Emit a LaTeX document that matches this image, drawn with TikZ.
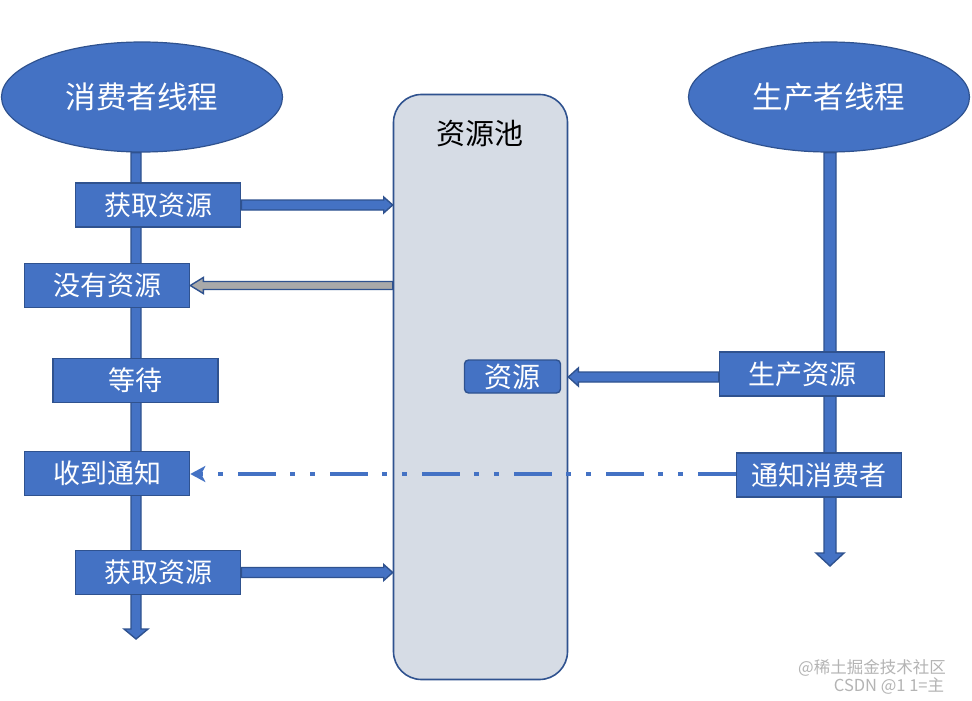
\documentclass[tikz,border=0pt]{standalone}
\usepackage{fontspec}
\setmainfont{Noto Sans CJK SC}
\usetikzlibrary{calc,shapes.geometric,arrows.meta,backgrounds}
\definecolor{fillb}{HTML}{4472C4}
\definecolor{edgeb}{HTML}{2F528F}
\definecolor{poolc}{HTML}{D6DCE5}
\definecolor{grayc}{HTML}{A9A9A9}
\definecolor{markc}{HTML}{B4B4B4}
% horizontal block arrow: [fill]{start}{end}{shaft half}{head half}{head length}
\newcommand\hblock[6][fillb]{%
  \filldraw[draw=edgeb, fill=#1, line width=1.4pt, line join=miter]
    let \p1=#2, \p2=#3, \n1={((\x2>\x1)*2-1)} in
    (\x1,\y1-#4) -- (\x2-\n1*#6,\y1-#4) -- (\x2-\n1*#6,\y1-#5) -- (\x2,\y1)
    -- (\x2-\n1*#6,\y1+#5) -- (\x2-\n1*#6,\y1+#4) -- (\x1,\y1+#4) -- cycle;}
% vertical (downward) block arrow: {start}{end}{shaft half}{head half}{head length}
\newcommand\vblock[5]{%
  \filldraw[draw=edgeb, fill=fillb, line width=1.4pt, line join=miter]
    let \p1=#1, \p2=#2 in
    (\x1-#3,\y1) -- (\x1-#3,\y2+#5) -- (\x1-#4,\y2+#5) -- (\x1,\y2)
    -- (\x1+#4,\y2+#5) -- (\x1+#3,\y2+#5) -- (\x1+#3,\y1) -- cycle;}
\tikzset{
  thread/.style={ellipse, draw=edgeb, line width=1.2pt, fill=fillb, text=white,
    minimum width=281pt, minimum height=110pt, inner sep=0pt,
    font=\fontsize{30.5}{30.5}\selectfont},
  stepbox/.style={rectangle, draw=edgeb, line width=1.6pt, fill=fillb, text=white,
    minimum width=165pt, minimum height=44pt, inner sep=0pt,
    font=\fontsize{27}{27}\selectfont},
  poolbox/.style={rectangle, rounded corners=28pt, draw=edgeb, line width=1.6pt,
    fill=poolc, minimum width=174pt, minimum height=585pt, inner sep=0pt},
  resbox/.style={rectangle, rounded corners=4pt, draw=edgeb, line width=1.4pt,
    fill=fillb, text=white, minimum width=96pt, minimum height=33pt, inner sep=0pt,
    font=\fontsize{28}{28}\selectfont},
  notifyline/.style={draw=fillb, line width=4pt,
    dash pattern=on 38pt off 15pt on 5pt off 15pt on 5pt off 14pt,
    -{Stealth[length=15pt,width=16pt,inset=4pt]}},
  wmark/.style={text=markc, inner sep=0pt, font=\fontsize{16.5}{16.5}\selectfont}
}
\begin{document}
\begin{tikzpicture}[x=1pt,y=-1pt]
\useasboundingbox (0,0) rectangle (972,701);

% resource pool
\node[poolbox] (pool) at (480.5,387) {};
\node[font=\fontsize{29}{29}\selectfont] (pooltitle) at (480,134) {资源池};

% threads
\node[thread] (lc) at (142,97) {消费者线程};
\node[thread] (rc) at (829,97) {生产者线程};

\coordinate (lend) at (136,639);
\coordinate (rend) at (830,566);

% consumer steps
\node[stepbox] (get1) at (158,205) {获取资源};
\node[stepbox] (none) at (107,285.5) {没有资源};
\node[stepbox] (wait) at (135.5,380.5) {等待};
\node[stepbox] (notified) at (107,473.5) {收到通知};
\node[stepbox] (get2) at (158,572.5) {获取资源};

% producer steps
\node[stepbox] (produce) at (802,374) {生产资源};
\node[stepbox] (notify) at (819,475) {通知消费者};

% resource in pool
\node[resbox] (res) at (512.5,376.5) {资源};

% page and thread lines (behind)
\begin{pgfonlayer}{background}
\fill[white] (0,0) rectangle (972,701);
\vblock{(lend |- lc.south)}{(lend)}{5pt}{12pt}{10pt}
\vblock{(rend |- rc.south)}{(rend)}{6pt}{14pt}{13pt}
\end{pgfonlayer}

% horizontal connectors
\hblock{(get1.east)}{(get1.east -| pool.west)}{5pt}{8pt}{9pt}
\hblock[grayc]{(none.east -| pool.west)}{(none.east)}{4pt}{8pt}{13pt}
\hblock{($(produce.west)+(0,3)$)}{($(produce.west -| pool.east)+(0,3)$)}{5pt}{9pt}{10pt}
\hblock{(get2.east)}{(get2.east -| pool.west)}{5pt}{8pt}{9pt}
\draw[notifyline] ($(notify.west)+(0,-1)$) -- ($(notified.east |- notify.west)+(0,-1)$);

% watermark
\node[wmark] (wm1) at (872,668) {@稀土掘金技术社区};
\node[wmark] (wm2) at (889,686) {CSDN @1 1=主};
\end{tikzpicture}
\end{document}
